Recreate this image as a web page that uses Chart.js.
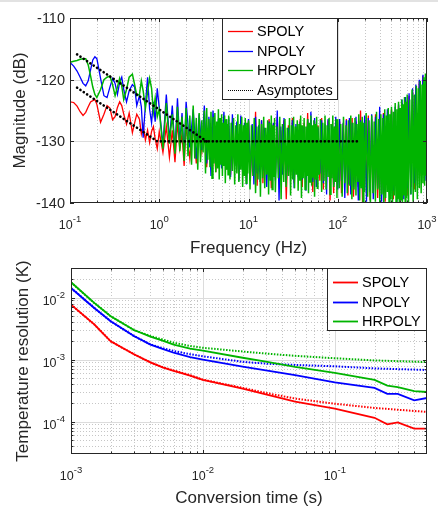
<!DOCTYPE html>
<html>
<head>
<meta charset="utf-8">
<title>Noise spectrum and temperature resolution</title>
<script src="https://cdn.jsdelivr.net/npm/chart.js@4.4.1/dist/chart.umd.min.js"></script>
<style>
  html, body { margin: 0; padding: 0; background: #fff; }
  body { position: relative; width: 438px; height: 508px; overflow: hidden; }
  .edge { position: absolute; left: 0; top: 0; width: 438px; height: 2px; background: #e2e2e2; }
  #spectrum { position: absolute; left: 0; top: 0; }
  #resolution { position: absolute; left: 0; top: 250px; }
</style>
</head>
<body>
<div class="edge"></div>
<canvas id="spectrum" width="438" height="262"></canvas>
<canvas id="resolution" width="438" height="258"></canvas>
<script>
// ---- top panel: noise spectrum (dB) ----
// SPOLY and NPOLY share this frequency grid
const freqHz = [
  0.10,0.11,0.12,0.13,0.14,0.15,0.16,0.17,0.18,0.19,
  0.20,0.22,0.24,0.26,0.28,0.30,0.32,0.34,0.36,0.38,
  0.40,0.43,0.46,0.50,0.53,0.56,0.60,0.63,0.66,0.70,
  0.74,0.78,0.82,0.86,0.90,0.95,
  1.0,1.1,1.2,1.3,1.4,1.5,1.6,1.7,1.8,1.9,
  2.0,2.2,2.4,2.6,2.8,3.0,3.2,3.4,3.6,3.8,
  4.0,4.3,4.6,5.0,5.3,5.6,6.0,6.3,6.6,7.0,
  7.4,7.8,8.2,8.6,9.0,9.5,
  10,10.5,11,11.5,12,12.5,13,13.5,14,14.5,
  15,16,17,18,19,20,21,22,23,24,
  25,26.5,28,29.5,31,32.5,34,36,38,40,
  42,44,46,48,50,52.5,55,57.5,60,63,
  66,69,72,75,78,82,86,90,95,
  100,105,110,115,120,125,130,135,140,145,
  150,160,170,180,190,200,210,220,230,240,
  250,265,280,295,310,325,340,360,380,400,
  420,440,460,480,500,525,550,575,600,630,
  660,690,720,750,780,820,860,900,950,1000
];

const spolyDb = [
  -123.6,-123.7,-124.3,-125.2,-125.8,-125.3,-124.4,-123.6,-123.4,-123.2,
  -124.0,-126.9,-125.6,-124.2,-124.6,-126.5,-126.0,-124.5,-123.6,-124.2,
  -125.6,-127.2,-125.4,-128.6,-127.0,-125.6,-126.4,-128.8,-127.4,-129.8,
  -128.2,-130.2,-128.4,-127.6,-129.6,-131.2,
  -128.4,-131.8,-127.6,-132.6,-128.2,-133.4,-127.0,-131.2,-128.8,-134.0,
  -127.4,-132.8,-126.8,-133.6,-128.0,-131.6,-126.6,-134.2,-127.8,-132.4,
  -127.2,-135.0,-127.0,-133.2,-126.4,-134.6,-127.6,-135.4,-126.8,-133.8,
  -127.2,-136.2,-126.6,-134.8,-127.4,-136.0,
  -126.8,-136.4,-127.6,-134.2,-125.2,-137.2,-128.0,-135.0,-126.6,-136.8,
  -127.8,-134.6,-126.4,-137.6,-127.2,-135.4,-126.0,-136.2,-128.2,-134.8,
  -126.6,-139.4,-127.4,-135.6,-126.2,-136.8,-127.8,-134.4,-126.4,-137.4,
  -127.0,-135.8,-125.4,-136.6,-127.6,-138.2,-126.8,-135.2,-127.4,-136.4,
  -126.2,-137.8,-127.8,-135.0,-126.6,-139.6,-127.2,-138.4,-126.4,
  -136.6,-126.8,-138.4,-127.2,-136.0,-126.4,-138.8,-127.0,-137.2,-126.2,
  -139.0,-126.8,-137.4,-125.0,-140.6,-126.6,-138.0,-125.8,-139.6,-126.4,
  -137.8,-125.6,-139.2,-126.0,-138.4,-125.4,-139.8,-125.8,-138.6,-124.8,
  -139.4,-125.2,-138.2,-124.2,-139.6,-123.8,-138.0,-123.4,-138.8,-122.6,
  -137.4,-122.0,-137.8,-121.2,-136.4,-120.4,-135.6,-119.4,-134.2,-118.0
];

const npolyDb = [
  -117.2,-117.8,-118.6,-119.6,-120.6,-121.0,-120.2,-118.4,-116.8,-116.3,
  -116.6,-119.8,-122.6,-122.9,-121.2,-119.8,-120.6,-122.4,-120.4,-119.6,
  -121.6,-123.6,-121.8,-120.8,-121.2,-124.2,-122.6,-124.4,-129.4,-124.0,
  -119.6,-124.8,-127.0,-123.6,-126.8,-121.4,
  -124.6,-130.6,-122.4,-129.8,-124.2,-131.6,-123.0,-130.2,-125.4,-132.4,
  -123.6,-131.0,-124.8,-132.8,-125.6,-131.4,-124.2,-133.6,-126.0,-135.6,
  -125.0,-133.0,-126.4,-134.4,-125.2,-132.6,-126.2,-135.8,-125.6,-134.0,
  -126.8,-136.4,-125.8,-135.2,-127.0,-137.0,
  -126.4,-135.6,-127.2,-137.0,-126.0,-135.2,-127.4,-136.6,-126.6,-134.8,
  -127.8,-137.4,-126.8,-135.6,-127.0,-136.4,-125.0,-139.6,-127.6,-135.4,
  -126.2,-136.8,-127.8,-135.0,-126.6,-137.6,-127.2,-135.8,-126.8,-136.2,
  -127.6,-138.0,-126.4,-135.4,-125.2,-136.6,-126.2,-137.4,-127.8,-135.2,
  -126.6,-136.8,-127.2,-138.6,-126.4,-135.8,-127.4,-137.2,-126.0,
  -137.8,-126.4,-136.4,-127.0,-139.2,-126.6,-137.0,-126.2,-138.6,-127.0,
  -137.4,-126.0,-139.6,-126.6,-137.8,-125.8,-139.8,-126.2,-138.2,-125.6,
  -139.4,-126.0,-137.6,-124.4,-139.8,-125.6,-138.4,-124.8,-139.6,-125.0,
  -138.0,-124.4,-139.8,-124.0,-137.8,-123.2,-139.4,-122.8,-137.6,-122.2,
  -138.6,-121.4,-136.8,-120.8,-137.2,-120.0,-135.2,-119.2,-136.4,-118.6
];

// HRPOLY is sampled on a finer grid (it covers the other two in the plot)
const hrFreqHz = [
  0.10,0.11,0.12,0.13,0.14,0.15,0.16,0.17,0.18,0.19,
  0.20,0.22,0.24,0.26,0.28,0.30,0.32,0.34,0.36,0.38,
  0.40,0.43,0.46,0.50,0.53,0.56,0.60,0.63,0.66,0.70,
  0.74,0.78,0.82,0.86,0.90,0.95,
  1.0,1.1,1.2,1.3,1.4,1.5,1.6,1.7,1.8,1.9,
  2.0,2.1,2.2,2.3,2.4,2.5,2.6,2.7,2.8,2.9,
  3.0,3.1,3.2,3.3,3.4,3.5,3.6,3.7,3.8,3.9,
  4.0,4.1,4.2,4.3,4.4,4.5,4.6,4.7,4.8,4.9,
  5.0,5.1,5.2,5.3,5.4,5.5,5.6,5.7,5.8,5.9,
  6.0,6.2,6.4,6.6,6.8,7.0,7.2,7.4,7.6,7.8,
  8.0,8.2,8.4,8.6,8.8,9.0,9.2,9.4,9.6,9.8,
  10,10.4,10.8,11.2,11.6,12,12.4,12.8,13.2,13.6,
  14,14.4,14.8,15.2,15.6,16,16.4,16.8,17.2,17.6,
  18,18.4,18.8,19.2,19.6,20,20.8,21.6,22.4,23.2,
  24,24.8,25.6,26.4,27.2,28,28.8,29.6,30.4,31.2,
  32,32.8,33.6,34.4,35.2,36,36.8,37.6,38.4,39.2,
  40,41,42,43,44,45,46,47,48,49,
  50,51,52,53,54,55,56,57,58,59,
  60,62,64,66,68,70,72,74,76,78,
  80,82,84,86,88,90,92,94,96,98,
  100,104,108,112,116,120,124,128,132,136,
  140,144,148,152,156,160,164,168,172,176,
  180,184,188,192,196,200,208,216,224,232,
  240,248,256,264,272,280,288,296,304,312,
  320,328,336,344,352,360,368,376,384,392,
  400,410,420,430,440,450,460,470,480,490,
  500,510,520,530,540,550,560,570,580,590,
  600,620,640,660,680,700,720,740,760,780,
  800,820,840,860,880,900,920,940,960,980,
  1000
];

const hrpolyDb = [
  -117.2,-117.0,-116.9,-116.7,-116.6,-116.6,-117.6,-119.4,-121.2,-122.4,
  -122.9,-121.6,-120.0,-119.6,-119.4,-120.8,-122.6,-121.2,-119.8,-121.0,
  -123.2,-121.6,-119.6,-119.1,-120.8,-122.6,-122.4,-120.2,-121.8,-124.6,
  -122.0,-119.8,-121.4,-125.2,-123.0,-126.0,
  -124.8,-131.2,-123.8,-130.4,-125.6,-132.0,-124.4,-131.6,-126.0,-133.2,
  -124.6,-132.4,-125.8,-133.8,-124.2,-132.8,-126.2,-134.6,-125.4,-133.4,
  -126.6,-131.8,-125.0,-135.2,-124.6,-133.0,-126.4,-134.2,-125.2,-136.0,
  -126.0,-133.6,-125.4,-135.0,-126.8,-134.4,-124.8,-136.2,-126.2,-133.8,
  -125.6,-135.6,-127.0,-134.0,-125.8,-136.8,-126.4,-134.6,-127.2,-135.4,
  -125.8,-136.2,-127.0,-134.8,-126.2,-137.0,-127.4,-135.2,-125.6,-136.6,
  -127.2,-134.6,-126.0,-137.4,-127.4,-135.6,-126.2,-136.8,-127.0,-135.2,
  -126.6,-137.8,-127.4,-135.6,-126.2,-138.4,-127.6,-136.2,-126.4,-139.0,
  -127.2,-136.0,-126.0,-137.6,-127.8,-135.4,-126.6,-138.6,-127.0,-136.4,
  -125.8,-137.8,-127.4,-135.8,-126.2,-138.2,-127.6,-136.0,-126.0,-139.4,
  -127.2,-136.6,-126.4,-137.4,-127.8,-135.6,-126.2,-138.8,-127.4,-136.2,
  -126.0,-137.6,-127.6,-135.4,-126.6,-138.0,-127.2,-136.4,-125.8,-139.2,
  -127.4,-136.0,-126.2,-137.8,-127.6,-135.6,-126.4,-138.4,-127.0,-136.6,
  -125.8,-137.2,-127.4,-135.8,-126.6,-139.0,-127.2,-136.2,-126.0,-137.6,
  -127.6,-135.4,-126.4,-138.2,-127.0,-136.4,-125.8,-137.8,-127.4,-135.8,
  -126.2,-138.6,-127.2,-136.0,-125.8,-137.4,-127.6,-136.6,-126.4,-139.2,
  -126.4,-137.6,-127.2,-139.0,-126.0,-136.8,-127.4,-138.4,-126.6,-137.2,
  -125.8,-139.4,-127.0,-137.8,-126.2,-138.8,-127.2,-136.6,-125.6,-139.6,
  -126.8,-137.6,-126.0,-140.2,-127.0,-138.2,-125.4,-139.0,-126.6,-140.6,
  -125.8,-138.4,-126.8,-139.8,-125.2,-137.8,-126.4,-140.4,-125.6,-138.6,
  -126.2,-140.8,-124.8,-139.2,-125.8,-138.2,-124.6,-140.4,-125.6,-139.4,
  -124.4,-140.6,-125.2,-138.8,-123.8,-140.2,-124.8,-139.4,-123.6,-141.0,
  -124.6,-139.6,-123.2,-140.8,-124.0,-138.8,-122.8,-140.4,-123.6,-139.2,
  -122.4,-140.6,-123.2,-138.6,-121.6,-139.8,-122.4,-138.2,-121.0,-139.4,
  -121.4,-137.6,-120.2,-138.4,-120.8,-136.8,-119.6,-137.2,-119.0,-135.6,
  -118.8
];

const asymHighHz = [0.12, 3.4];
const asymHighDb = [-115.9, -130];
const asymLowHz = [0.12, 0.95, 170];
const asymLowDb = [-121.3, -130, -130];

const freqTicks = [0.1, 1, 10, 100, 1000];
const magTicks = [-140, -130, -120, -110];

// ---- bottom panel: temperature resolution (K) ----
const convTime = [0.001, 0.0015, 0.002, 0.003, 0.004, 0.005, 0.006, 0.008, 0.01,
                  0.02, 0.03, 0.05, 0.1, 0.2, 0.25, 0.3, 0.4, 0.5];
const spolyRes  = [7.7e-3, 3.7e-3, 1.97e-3, 1.22e-3, 9.0e-4, 7.4e-4, 6.6e-4, 5.5e-4, 4.7e-4,
                   3.4e-4, 2.75e-4, 2.1e-4, 1.62e-4, 1.15e-4, 9.0e-5, 9.7e-5, 7.7e-5, 7.7e-5];
const npolyRes  = [1.43e-2, 6.8e-3, 4.15e-3, 2.4e-3, 1.74e-3, 1.48e-3, 1.29e-3, 1.1e-3, 1.0e-3,
                   7.7e-4, 6.7e-4, 5.6e-4, 4.3e-4, 3.5e-4, 2.8e-4, 2.8e-4, 2.2e-4, 2.4e-4];
const hrpolyRes = [1.77e-2, 8.2e-3, 5.0e-3, 3.0e-3, 2.35e-3, 2.0e-3, 1.74e-3, 1.5e-3, 1.4e-3,
                   1.07e-3, 9.3e-4, 7.6e-4, 6.1e-4, 4.7e-4, 3.8e-4, 3.6e-4, 3.1e-4, 3.0e-4];

// model curves (dotted)
const fitTime = [0.001, 0.0015, 0.002, 0.003, 0.004, 0.005, 0.006, 0.008, 0.01,
                 0.02, 0.03, 0.05, 0.1, 0.2, 0.5];
const spolyFit  = [7.7e-3, 3.7e-3, 1.97e-3, 1.22e-3, 9.0e-4, 7.5e-4, 6.7e-4, 5.6e-4, 4.75e-4,
                   3.5e-4, 2.9e-4, 2.35e-4, 1.94e-4, 1.66e-4, 1.43e-4];
const npolyFit  = [1.43e-2, 6.8e-3, 4.15e-3, 2.4e-3, 1.76e-3, 1.52e-3, 1.38e-3, 1.22e-3, 1.13e-3,
                   9.2e-4, 8.6e-4, 8.2e-4, 7.8e-4, 7.2e-4, 6.8e-4];
const hrpolyFit = [1.77e-2, 8.2e-3, 5.0e-3, 3.0e-3, 2.4e-3, 2.1e-3, 1.87e-3, 1.66e-3, 1.55e-3,
                   1.35e-3, 1.25e-3, 1.15e-3, 1.05e-3, 9.7e-4, 9.1e-4];

const timeTicks = [0.001, 0.01, 0.1];
const resTicks = [1e-4, 1e-3, 1e-2];

const seriesNames = ['SPOLY', 'NPOLY', 'HRPOLY'];

const FONT = '"Liberation Sans", Arial, sans-serif';
const AXIS = '#262626';
const RED = '#ff0000', BLUE = '#0000ff', GREEN = '#00b400';

function zip(xs, ys) {
  return xs.map((x, i) => ({ x: x, y: ys[i] }));
}

// 2..9 x 10^k positions between min and max (minor grid and ticks)
function logMinors(min, max) {
  const out = [];
  for (let e = Math.floor(Math.log10(min)); e <= Math.ceil(Math.log10(max)); e++) {
    for (let m = 2; m <= 9; m++) {
      const v = +(m * Math.pow(10, e)).toPrecision(6);
      if (v > min * 1.0001 && v < max * 0.9999) out.push(v);
    }
  }
  return out;
}

function px(v) { return Math.round(v) + 0.5; }

function powLabel(ctx, v, x, baseline, align) {
  const e = String(Math.round(Math.log10(v)));
  ctx.font = '12.5px ' + FONT;
  const wb = ctx.measureText('10').width;
  ctx.font = '9.5px ' + FONT;
  const we = ctx.measureText(e).width;
  const x0 = align === 'center' ? x - (wb + we) / 2 : x - wb - we;
  ctx.textAlign = 'left';
  ctx.textBaseline = 'alphabetic';
  ctx.font = '12.5px ' + FONT;
  ctx.fillText('10', x0, baseline);
  ctx.font = '9.5px ' + FONT;
  ctx.fillText(e, x0 + wb, baseline - 6.6);
}

function drawLegend(ctx, a, lg) {
  const left = lg.alignRight ? a.right - lg.width : a.left + lg.offsetX;
  const top = a.top;
  ctx.save();
  ctx.fillStyle = '#fff';
  ctx.fillRect(left, top, lg.width, lg.height);
  ctx.strokeStyle = AXIS;
  ctx.lineWidth = 1;
  ctx.setLineDash([]);
  ctx.strokeRect(left + 0.5, top + 0.5, lg.width - 1, lg.height - 1);
  ctx.font = '14.5px ' + FONT;
  ctx.textAlign = 'left';
  ctx.textBaseline = 'middle';
  lg.items.forEach((it, i) => {
    const y = top + lg.firstRow + i * lg.rowGap;
    ctx.save();
    ctx.strokeStyle = it.color;
    ctx.lineWidth = it.width;
    ctx.setLineDash(it.dash || []);
    ctx.beginPath();
    ctx.moveTo(left + 6, Math.round(y) + 0.5);
    ctx.lineTo(left + 31, Math.round(y) + 0.5);
    ctx.stroke();
    ctx.restore();
    ctx.fillStyle = '#000';
    ctx.fillText(it.label, left + 35, y + 1);
  });
  ctx.restore();
}

const matlabAxes = {
  id: 'matlabAxes',
  beforeDatasetsDraw(chart, args, o) {
    const ctx = chart.ctx, a = chart.chartArea;
    const xs = chart.scales.x, ys = chart.scales.y;
    ctx.save();
    ctx.lineWidth = 1;
    ctx.strokeStyle = '#c6c6c6';
    ctx.setLineDash([1, 2]);
    o.xMinor.forEach(v => {
      const x = px(xs.getPixelForValue(v));
      ctx.beginPath(); ctx.moveTo(x, a.top); ctx.lineTo(x, a.bottom); ctx.stroke();
    });
    if (o.yMinorGrid) {
      o.yMinor.forEach(v => {
        const y = px(ys.getPixelForValue(v));
        ctx.beginPath(); ctx.moveTo(a.left, y); ctx.lineTo(a.right, y); ctx.stroke();
      });
    }
    ctx.setLineDash([]);
    ctx.strokeStyle = '#dcdcdc';
    o.xTicks.forEach(v => {
      const x = px(xs.getPixelForValue(v));
      if (x < a.left + 2 || x > a.right - 2) return;
      ctx.beginPath(); ctx.moveTo(x, a.top); ctx.lineTo(x, a.bottom); ctx.stroke();
    });
    o.yTicks.forEach(v => {
      const y = px(ys.getPixelForValue(v));
      if (y < a.top + 2 || y > a.bottom - 2) return;
      ctx.beginPath(); ctx.moveTo(a.left, y); ctx.lineTo(a.right, y); ctx.stroke();
    });
    ctx.restore();
  },
  afterDatasetsDraw(chart, args, o) {
    const ctx = chart.ctx, a = chart.chartArea;
    const xs = chart.scales.x, ys = chart.scales.y;
    ctx.save();
    ctx.strokeStyle = AXIS;
    ctx.lineWidth = 1;
    ctx.setLineDash([]);
    // inward ticks on all four sides
    const xTick = (v, len) => {
      const x = px(xs.getPixelForValue(v));
      ctx.beginPath();
      ctx.moveTo(x, a.bottom); ctx.lineTo(x, a.bottom - len);
      ctx.moveTo(x, a.top); ctx.lineTo(x, a.top + len);
      ctx.stroke();
    };
    const yTick = (v, len) => {
      const y = px(ys.getPixelForValue(v));
      ctx.beginPath();
      ctx.moveTo(a.left, y); ctx.lineTo(a.left + len, y);
      ctx.moveTo(a.right, y); ctx.lineTo(a.right - len, y);
      ctx.stroke();
    };
    o.xMinor.forEach(v => xTick(v, 2.5));
    o.xTicks.forEach(v => xTick(v, 4));
    o.yMinor.forEach(v => yTick(v, 2.5));
    o.yTicks.forEach(v => yTick(v, 4));
    ctx.strokeRect(a.left + 0.5, a.top + 0.5, a.width - 1, a.height - 1);

    // tick labels
    ctx.fillStyle = AXIS;
    o.xTicks.forEach(v => powLabel(ctx, v, xs.getPixelForValue(v), a.bottom + 26, 'center'));
    o.yTicks.forEach(v => {
      const y = ys.getPixelForValue(v);
      if (o.yLabels === 'pow') {
        powLabel(ctx, v, a.left - 6, y + 7, 'right');
      } else {
        ctx.font = '14.5px ' + FONT;
        ctx.textAlign = 'right';
        ctx.textBaseline = 'middle';
        ctx.fillText(String(v), a.left - 5, y + 1);
      }
    });

    // axis titles
    ctx.font = '17px ' + FONT;
    ctx.textAlign = 'center';
    ctx.textBaseline = 'middle';
    ctx.fillText(o.xTitle, (a.left + a.right) / 2, a.bottom + o.xTitleOffset);
    ctx.save();
    ctx.translate(o.yTitleX, (a.top + a.bottom) / 2);
    ctx.rotate(-Math.PI / 2);
    ctx.fillText(o.yTitle, 0, 0);
    ctx.restore();
    ctx.restore();

    drawLegend(ctx, a, o.legend);
  }
};

const baseLine = { pointRadius: 0, pointHoverRadius: 0, fill: false, tension: 0, clip: 0 };
const dots = { borderColor: '#000', borderWidth: 2.6, borderDash: [0.1, 3.9], borderCapStyle: 'round' };

new Chart(document.getElementById('spectrum'), {
  type: 'line',
  data: {
    datasets: [
      Object.assign({ label: 'Asymptotes', data: zip(asymHighHz, asymHighDb) }, dots, baseLine),
      Object.assign({ label: 'Asymptotes', data: zip(asymLowHz, asymLowDb) }, dots, baseLine),
      Object.assign({ label: seriesNames[2], data: zip(hrFreqHz, hrpolyDb), borderColor: GREEN, borderWidth: 1.5 }, baseLine),
      Object.assign({ label: seriesNames[1], data: zip(freqHz, npolyDb), borderColor: BLUE, borderWidth: 1.3 }, baseLine),
      Object.assign({ label: seriesNames[0], data: zip(freqHz, spolyDb), borderColor: RED, borderWidth: 1.3 }, baseLine)
    ]
  },
  options: {
    responsive: false,
    animation: false,
    devicePixelRatio: 1,
    events: [],
    layout: { autoPadding: false, padding: { top: 18, right: 11, left: 0, bottom: 0 } },
    scales: {
      x: {
        type: 'logarithmic', min: 0.1, max: 1000,
        ticks: { display: false }, grid: { display: false }, border: { display: false },
        afterFit: s => { s.height = 59; }
      },
      y: {
        type: 'linear', min: -140, max: -110,
        ticks: { display: false }, grid: { display: false }, border: { display: false },
        afterFit: s => { s.width = 70; }
      }
    },
    plugins: {
      legend: { display: false },
      tooltip: { enabled: false },
      matlabAxes: {
        xTicks: freqTicks, xMinor: logMinors(0.1, 1000),
        yTicks: magTicks, yMinor: [], yMinorGrid: false, yLabels: 'num',
        xTitle: 'Frequency (Hz)', xTitleOffset: 45,
        yTitle: 'Magnitude (dB)', yTitleX: 20,
        legend: {
          offsetX: 152, width: 116, height: 82, firstRow: 13, rowGap: 19.5,
          items: [
            { label: seriesNames[0], color: RED, width: 1.3 },
            { label: seriesNames[1], color: BLUE, width: 1.3 },
            { label: seriesNames[2], color: GREEN, width: 1.3 },
            { label: 'Asymptotes', color: '#000', width: 1.2, dash: [1, 1] }
          ]
        }
      }
    }
  },
  plugins: [matlabAxes]
});

new Chart(document.getElementById('resolution'), {
  type: 'line',
  data: {
    datasets: [
      Object.assign({ label: seriesNames[2], data: zip(convTime, hrpolyRes), borderColor: GREEN, borderWidth: 1.8 }, baseLine),
      Object.assign({ label: seriesNames[1], data: zip(convTime, npolyRes), borderColor: BLUE, borderWidth: 1.8 }, baseLine),
      Object.assign({ label: seriesNames[0], data: zip(convTime, spolyRes), borderColor: RED, borderWidth: 1.8 }, baseLine),
      Object.assign({ label: seriesNames[2] + ' model', data: zip(fitTime, hrpolyFit), borderColor: GREEN,
        borderWidth: 2, borderDash: [1.5, 1.5] }, baseLine),
      Object.assign({ label: seriesNames[1] + ' model', data: zip(fitTime, npolyFit), borderColor: BLUE,
        borderWidth: 2, borderDash: [1.5, 1.5] }, baseLine),
      Object.assign({ label: seriesNames[0] + ' model', data: zip(fitTime, spolyFit), borderColor: RED,
        borderWidth: 2, borderDash: [1.5, 1.5] }, baseLine)
    ]
  },
  options: {
    responsive: false,
    animation: false,
    devicePixelRatio: 1,
    events: [],
    layout: { autoPadding: false, padding: { top: 18, right: 11, left: 0, bottom: 0 } },
    scales: {
      x: {
        type: 'logarithmic', min: 0.001, max: 0.5,
        ticks: { display: false }, grid: { display: false }, border: { display: false },
        afterFit: s => { s.height = 54; }
      },
      y: {
        type: 'logarithmic', min: 3e-5, max: 3e-2,
        ticks: { display: false }, grid: { display: false }, border: { display: false },
        afterFit: s => { s.width = 71; }
      }
    },
    plugins: {
      legend: { display: false },
      tooltip: { enabled: false },
      matlabAxes: {
        xTicks: timeTicks, xMinor: logMinors(0.001, 0.5),
        yTicks: resTicks, yMinor: logMinors(3e-5, 3e-2), yMinorGrid: true, yLabels: 'pow',
        xTitle: 'Conversion time (s)', xTitleOffset: 44,
        yTitle: 'Temperature resolution (K)', yTitleX: 23.5,
        legend: {
          alignRight: true, width: 100, height: 63, firstRow: 14, rowGap: 19.5,
          items: [
            { label: seriesNames[0], color: RED, width: 1.8 },
            { label: seriesNames[1], color: BLUE, width: 1.8 },
            { label: seriesNames[2], color: GREEN, width: 1.8 }
          ]
        }
      }
    }
  },
  plugins: [matlabAxes]
});
</script>
</body>
</html>
